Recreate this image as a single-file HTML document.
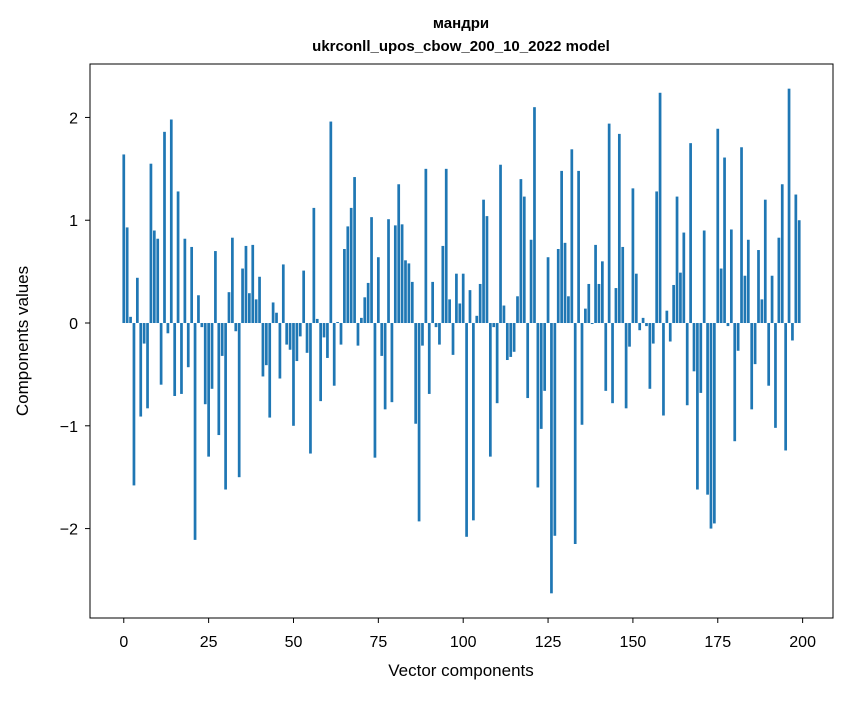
<!DOCTYPE html>
<html><head><meta charset="utf-8"><style>
body{margin:0;background:#fff;}
svg text{font-family:"Liberation Sans","DejaVu Sans",sans-serif;fill:#000;}
</style></head><body>
<svg id="chart" width="847" height="696" xmlns="http://www.w3.org/2000/svg">
<rect width="847" height="696" fill="#fff"/>
<text x="461" y="28" text-anchor="middle" font-size="15" font-weight="bold">мандри</text>
<text x="461" y="51" text-anchor="middle" font-size="15" font-weight="bold">ukrconll_upos_cbow_200_10_2022 model</text>
<g id="bars"></g>
<g id="axes"></g>
<text x="461" y="676" text-anchor="middle" font-size="17">Vector components</text>
<text transform="translate(28,341) rotate(-90)" text-anchor="middle" font-size="17">Components values</text>
</svg>
<script>
const values = [1.64,0.93,0.06,-1.58,0.44,-0.91,-0.2,-0.83,1.55,0.9,0.82,-0.6,1.86,-0.1,1.98,-0.71,1.28,-0.69,0.82,-0.43,0.74,-2.11,0.27,-0.04,-0.79,-1.3,-0.64,0.7,-1.09,-0.32,-1.62,0.3,0.83,-0.08,-1.5,0.53,0.75,0.29,0.76,0.23,0.45,-0.52,-0.41,-0.92,0.2,0.1,-0.54,0.57,-0.21,-0.26,
-1.0,-0.37,-0.13,0.51,-0.29,-1.27,1.12,0.04,-0.76,-0.14,-0.34,1.96,-0.61,0.01,-0.21,0.72,0.94,1.12,1.42,-0.22,0.05,0.25,0.39,1.03,-1.31,0.64,-0.32,-0.84,1.01,-0.77,0.95,1.35,0.96,0.61,0.58,0.4,-0.98,-1.93,-0.22,1.5,-0.69,0.4,-0.04,-0.21,0.75,1.5,0.23,-0.31,0.48,0.19,
0.48,-2.08,0.32,-1.92,0.07,0.38,1.2,1.04,-1.3,-0.04,-0.78,1.54,0.17,-0.36,-0.33,-0.28,0.26,1.4,1.23,-0.73,0.81,2.1,-1.6,-1.03,-0.66,0.64,-2.63,-2.07,0.72,1.48,0.78,0.26,1.69,-2.15,1.48,-0.99,0.14,0.38,-0.01,0.76,0.38,0.6,-0.66,1.94,-0.78,0.34,1.84,0.74,-0.83,-0.23,
1.31,0.48,-0.07,0.05,-0.03,-0.64,-0.2,1.28,2.24,-0.9,0.12,-0.18,0.37,1.23,0.49,0.88,-0.8,1.75,-0.47,-1.62,-0.68,0.9,-1.67,-2.0,-1.95,1.89,0.53,1.61,-0.03,0.91,-1.15,-0.27,1.71,0.46,0.81,-0.84,-0.4,0.71,0.23,1.2,-0.61,0.46,-1.02,0.83,1.35,-1.24,2.28,-0.17,1.25,1.0];
const xTicks = [0,25,50,75,100,125,150,175,200];
const yTicks = [-2,-1,0,1,2];
const yTickLabels = ["\u22122","\u22121","0","1","2"];

const L=90,R=833,T=64,B=618;
const xMin=-9.95,xMax=208.95,yMin=-2.87,yMax=2.52;
const sx=v=>L+(v-xMin)/(xMax-xMin)*(R-L);
const sy=v=>T+(yMax-v)/(yMax-yMin)*(B-T);
const NS="http://www.w3.org/2000/svg";
const bars=document.getElementById('bars');
values.forEach((v,i)=>{
  const r=document.createElementNS(NS,'rect');
  const x0=sx(i-0.4),x1=sx(i+0.4);
  const y0=sy(Math.max(v,0)),y1=sy(Math.min(v,0));
  r.setAttribute('x',x0);r.setAttribute('width',x1-x0);
  r.setAttribute('y',y0);r.setAttribute('height',Math.max(y1-y0,0.3));
  r.setAttribute('fill','#1f77b4');
  
  
  bars.appendChild(r);
});
const ax=document.getElementById('axes');
const frame=document.createElementNS(NS,'rect');
frame.setAttribute('x',L);frame.setAttribute('y',T);frame.setAttribute('width',R-L);frame.setAttribute('height',B-T);
frame.setAttribute('fill','none');frame.setAttribute('stroke','#000');frame.setAttribute('stroke-width','1');


ax.appendChild(frame);
xTicks.forEach(t=>{
  const x=sx(t);
  const l=document.createElementNS(NS,'line');
  l.setAttribute('x1',x);l.setAttribute('x2',x);l.setAttribute('y1',B);l.setAttribute('y2',B+5);l.setAttribute('stroke','#000');
  
  
  ax.appendChild(l);
  const tx=document.createElementNS(NS,'text');
  tx.setAttribute('x',x);tx.setAttribute('y',B+29);tx.setAttribute('text-anchor','middle');tx.setAttribute('font-size','16');
  tx.textContent=t;
  
  
  ax.appendChild(tx);
});
yTicks.forEach((t,i)=>{
  const y=sy(t);
  const l=document.createElementNS(NS,'line');
  l.setAttribute('x1',L-5);l.setAttribute('x2',L);l.setAttribute('y1',y);l.setAttribute('y2',y);l.setAttribute('stroke','#000');
  
  
  ax.appendChild(l);
  const tx=document.createElementNS(NS,'text');
  tx.setAttribute('x',L-12);tx.setAttribute('y',y+6);tx.setAttribute('text-anchor','end');tx.setAttribute('font-size','16');
  tx.textContent=yTickLabels[i];
  
  
  ax.appendChild(tx);
});
</script>
</body></html>
